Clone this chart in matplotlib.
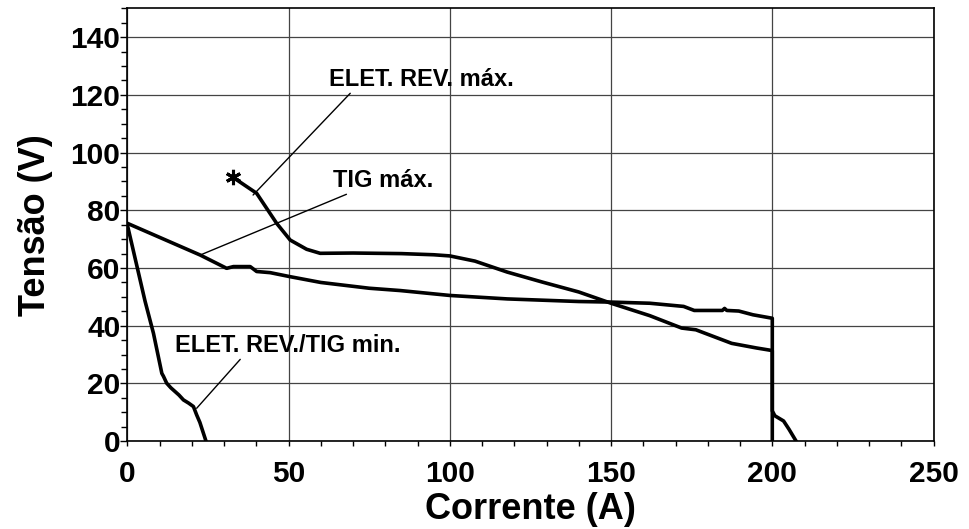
import matplotlib
matplotlib.use("Agg")
import matplotlib.pyplot as plt
from matplotlib.ticker import MultipleLocator

plt.rcParams['font.family'] = ['Liberation Sans', 'DejaVu Sans']
plt.rcParams['font.weight'] = 'bold'

# Curva ELET. REV. máx.
elet_max_x = [34, 40.1, 46.3, 50.5, 55.6, 59.8, 70, 85, 95, 100, 107.8, 117.8, 128.8, 140,
              150, 162, 171.9, 176.3, 187.4, 195.1, 200, 200, 200.8, 203.5, 205.2, 207.4]
elet_max_y = [90.5, 85.9, 75.5, 69.7, 66.5, 65.1, 65.2, 65.0, 64.6, 64.2, 62.4, 58.6, 55.1, 51.7,
              47.8, 43.5, 39.2, 38.6, 33.9, 32.3, 31.4, 10.5, 8.8, 7.0, 4.1, 0]

# Curva TIG máx.
tig_max_x = [0, 22.6, 30.8, 32.9, 38.1, 40.1, 44.3, 50.5, 60, 75, 84.6, 100, 117.8, 140, 150,
             162, 172.5, 175.8, 184.5, 185.2, 185.9, 189.6, 194, 200, 200]
tig_max_y = [75.5, 64.5, 59.9, 60.5, 60.5, 58.8, 58.4, 57.0, 55.0, 53.0, 52.2, 50.5, 49.3, 48.4, 48.2,
             47.8, 46.7, 45.3, 45.3, 46.0, 45.3, 45.1, 43.8, 42.6, 0]

# Curva ELET. REV./TIG min.
min_x = [0, 5.5, 8.1, 10.7, 11.2, 12.2, 13.5, 14.8, 16, 17.4, 19, 20.5, 21.5, 22.5, 24.4]
min_y = [75, 48.5, 37.4, 23.5, 22.5, 20.1, 18.5, 17.2, 16.0, 14.3, 13.2, 12.0, 9.1, 6.5, 0]

fig = plt.figure(figsize=(9.69, 5.29), dpi=100)
ax = fig.add_axes([0.1314, 0.166, 0.832, 0.8183])

lw = 2.6
ax.plot(elet_max_x, elet_max_y, color='black', lw=lw, solid_joinstyle='round')
ax.plot(tig_max_x, tig_max_y, color='black', lw=lw, solid_joinstyle='round')
ax.plot(min_x, min_y, color='black', lw=lw, solid_joinstyle='round')

# asterisco no início da curva
ax.plot([32.9], [91.7], marker=(6, 2, 0), markersize=11, mew=2.2, color='black')

ax.set_xlim(0, 250)
ax.set_ylim(0, 150)
ax.xaxis.set_major_locator(MultipleLocator(50))
ax.xaxis.set_minor_locator(MultipleLocator(10))
ax.set_yticks([0, 20, 40, 60, 80, 100, 120, 140])
ax.yaxis.set_minor_locator(MultipleLocator(5))
ax.tick_params(which='both', direction='out', width=1, colors='black', labelsize=21.5)
ax.tick_params(axis='y', which='major', length=5, pad=0)
ax.tick_params(axis='y', which='minor', length=4.3)
ax.tick_params(axis='x', which='both', length=3.6)
ax.tick_params(axis='x', which='major', pad=10)
ax.grid(True, which='major', color='#444444', lw=0.9)
for s in ax.spines.values():
    s.set_linewidth(1.2)

ax.set_xlabel('Corrente (A)', fontsize=26, fontweight='bold', labelpad=3)
ax.set_ylabel('Tensão (V)', fontsize=26, fontweight='bold', labelpad=12.5)

# anotações
ax.annotate('ELET. REV. máx.', xy=(39.0, 85.3), xytext=(62.5, 125.5),
            fontsize=17, fontweight='bold', va='center', ha='left',
            arrowprops=dict(arrowstyle='-', color='black', lw=1, shrinkA=0, shrinkB=0,
                            relpos=(0.13, 0.0)))
ax.annotate('TIG máx.', xy=(22.6, 64.5), xytext=(63.8, 90.5),
            fontsize=17, fontweight='bold', va='center', ha='left',
            arrowprops=dict(arrowstyle='-', color='black', lw=1, shrinkA=0, shrinkB=0,
                            relpos=(0.2, 0.0)))
ax.annotate('ELET. REV./TIG min.', xy=(21.5, 11.4), xytext=(14.8, 33.3),
            fontsize=17, fontweight='bold', va='center', ha='left',
            arrowprops=dict(arrowstyle='-', color='black', lw=1, shrinkA=0, shrinkB=0,
                            relpos=(0.3, 0.0)))

fig.savefig('out.png', dpi=100)
